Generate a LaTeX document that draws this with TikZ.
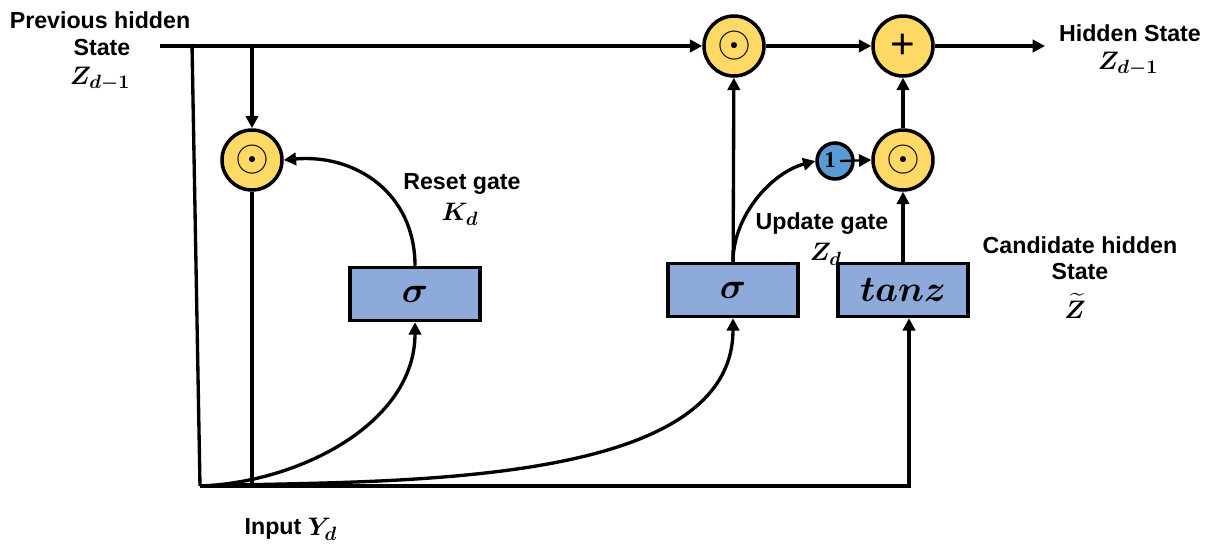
\documentclass[tikz,border=0pt]{standalone}
\usepackage{fontspec}
\usepackage{amsmath,bm}
\setmainfont{Liberation Sans}
\newfontfamily\serifbf{Liberation Serif}
\usetikzlibrary{arrows.meta,positioning,calc}
\definecolor{gold}{HTML}{FFD966}
\definecolor{boxblue}{HTML}{8EAADB}
\definecolor{oneblue}{HTML}{5B9BD5}
\begin{document}
\begin{tikzpicture}[x=0.02cm,y=-0.02cm,
  line width=1.9pt,
  >={Triangle[length=7pt,width=7pt]},
  op/.style={circle,draw,line width=2pt,fill=gold,minimum size=1.2cm,inner sep=0pt},
  onec/.style={circle,draw,line width=2pt,fill=oneblue,minimum size=0.72cm,inner sep=0pt},
  gatebox/.style={rectangle,draw,line width=2pt,fill=boxblue,minimum width=2.6cm,minimum height=1.06cm,inner sep=0pt,font=\fontsize{21}{21}\selectfont},
  lbl/.style={font=\bfseries\fontsize{13.2}{17}\selectfont,inner sep=0pt},
  mlbl/.style={font=\fontsize{15}{15}\selectfont,inner sep=0pt}
]
\useasboundingbox (0,0) rectangle (1208,545);
% operators
\newcommand{\hadam}{\fontsize{30}{30}\selectfont$\odot$}
\node[op] (topo) at (734,46) {\hadam};
\node[op] (sumP) at (903,46) {\fontsize{24}{24}\selectfont +};
\node[op] (reseto) at (252,160) {\hadam};
\node[op] (lowo) at (903,160) {\hadam};
\node[onec] (one) at (835,161) {};
\node[font=\serifbf\bfseries\fontsize{13}{13}\selectfont,inner sep=0pt] (onetxt) at (830,160) {1};
% gate boxes
\node[gatebox] (rsig) at (415,294) {$\bm{\sigma}$};
\node[gatebox] (usig) at (733,290) {$\bm{\sigma}$};
\node[gatebox] (tanh) at (903,290) {$\bm{tanz}$};
% coordinates
\coordinate (prevstart) at (160,46);
\coordinate (jl) at (192,44);
\coordinate (jr) at (252,46);
\coordinate (bl) at (200,486);
\coordinate (bm) at (252,486);
\coordinate (br) at (909,486);
\coordinate (outend) at (1045,46);
\coordinate (onestart) at (840,161);
% connectors
\draw[->] (prevstart) -- (topo);
\draw (jl) -- (bl);
\draw[->] (jr) -- (reseto);
\draw (reseto) -- (bm);
\draw[->] (bl) -- (br) -- (br |- tanh.south);
\draw[->] (topo) -- (sumP);
\draw[->] (sumP) -- (outend);
\draw[->] (usig) -- (topo);
\draw[->] (tanh) -- (lowo);
\draw[->] (lowo) -- (sumP);
\draw[->] (usig.north) to[out=90,in=195,looseness=0.9] (one.west);
\draw[->,line width=1.3pt] (onestart) -- (lowo.west);
\draw[->] (rsig.north) to[out=90,in=5,looseness=1.1] (reseto.east);
\draw[->] (bl) to[out=2,in=-90,looseness=0.95] (rsig.south);
\draw[->] (bl) to[out=2,in=-90,looseness=0.8] (usig.south);
% labels
\node[lbl] (prevl1) at (100,20) {Previous hidden};
\node[lbl] (prevl2) at (102,48) {State};
\node[mlbl] (prevl3) at (100,79) {$\bm{Z_{d-1}}$};
\node[lbl] (hidl1) at (1130,33) {Hidden State};
\node[mlbl] (hidl2) at (1128,64) {$\bm{Z_{d-1}}$};
\node[lbl] (resetl1) at (462,184) {Reset gate};
\node[mlbl] (resetl2) at (460,214) {$\bm{K_d}$};
\node[lbl] (updl1) at (822,224) {Update gate};
\node[mlbl] (updl2) at (826,254) {$\bm{Z_d}$};
\node[lbl] (candl1) at (1080,245) {Candidate hidden};
\node[lbl] (candl2) at (1080,272) {State};
\node[mlbl] (candl3) at (1075,306) {$\bm{\widetilde{Z}}$};
\node[lbl] (inpl1) at (273,529) {Input};
\node[mlbl,anchor=west] (inpl2) at (306,529) {$\bm{Y_d}$};
\end{tikzpicture}
\end{document}
